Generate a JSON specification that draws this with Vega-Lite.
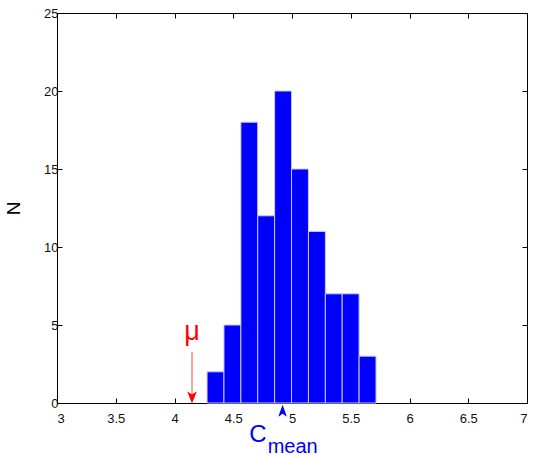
{
  "$schema": "https://vega.github.io/schema/vega-lite/v6.json",
  "autosize": "none",
  "padding": {"left": 57, "top": 13, "right": 7, "bottom": 52},
  "width": 470,
  "height": 390,
  "background": "white",
  "config": {
    "font": "Liberation Sans",
    "view": {"stroke": "#000", "strokeWidth": 1},
    "axis": {
      "domainColor": "#000",
      "tickColor": "#000",
      "labelColor": "#111",
      "labelFontSize": 13,
      "labelFont": "Liberation Sans",
      "grid": false,
      "tickSize": -5,
      "titleFont": "Liberation Sans",
      "titleFontWeight": "normal",
      "titleColor": "#000"
    }
  },
  "datasets": {
    "bins": [
      {"x0": 4.277, "x1": 4.421, "n": 2},
      {"x0": 4.421, "x1": 4.565, "n": 5},
      {"x0": 4.565, "x1": 4.708, "n": 18},
      {"x0": 4.708, "x1": 4.852, "n": 12},
      {"x0": 4.852, "x1": 4.996, "n": 20},
      {"x0": 4.996, "x1": 5.140, "n": 15},
      {"x0": 5.140, "x1": 5.284, "n": 11},
      {"x0": 5.284, "x1": 5.427, "n": 7},
      {"x0": 5.427, "x1": 5.571, "n": 7},
      {"x0": 5.571, "x1": 5.715, "n": 3}
    ]
  },
  "layer": [
    {
      "data": {"name": "bins"},
      "mark": {"type": "bar", "color": "#0000ff", "stroke": "#c8c8ff", "strokeWidth": 1},
      "encoding": {
        "x": {"field": "x0", "type": "quantitative", "scale": {"domain": [3, 7], "nice": false},
              "axis": {"values": [3, 3.5, 4, 4.5, 5, 5.5, 6, 6.5, 7], "format": "~g", "title": null, "labelPadding": 14}},
        "x2": {"field": "x1"},
        "y": {"field": "n", "type": "quantitative", "scale": {"domain": [0, 25], "nice": false},
              "axis": {"values": [0, 5, 10, 15, 20, 25], "format": "~g", "title": "N", "titleFontSize": 19, "titleX": -44, "titleY": 195, "titleAlign": "center", "titleBaseline": "middle", "labelPadding": 4}},
        "y2": {"datum": 0}
      }
    },
    {
      "data": {"values": [{"x": 4.149, "ya": 3.27, "yb": 0.4}]},
      "mark": {"type": "rule", "color": "#ff4545", "strokeWidth": 1},
      "encoding": {
        "x": {"field": "x", "type": "quantitative", "axis": {"orient": "top", "labels": false, "title": null, "values": [3, 3.5, 4, 4.5, 5, 5.5, 6, 6.5, 7], "domain": false}},
        "y": {"field": "ya", "type": "quantitative", "axis": {"orient": "right", "labels": false, "title": null, "values": [0, 5, 10, 15, 20, 25], "domain": false}},
        "y2": {"field": "yb"}
      }
    },
    {
      "data": {"values": [{"x": 4.149, "y": 0.36}]},
      "mark": {"type": "point", "shape": "M-0.8,-1 L0,1 L0.8,-1 L0,-0.5 Z", "size": 144, "filled": true, "color": "#ff0000", "opacity": 1},
      "encoding": {
        "x": {"field": "x", "type": "quantitative", "axis": null},
        "y": {"field": "y", "type": "quantitative", "axis": null}
      }
    },
    {
      "data": {"values": [{"x": 4.149, "y": 4.04, "t": "μ"}]},
      "mark": {"type": "text", "color": "#ff0000", "fontSize": 27, "align": "center", "baseline": "alphabetic", "font": "Liberation Sans"},
      "encoding": {
        "x": {"field": "x", "type": "quantitative", "axis": null},
        "y": {"field": "y", "type": "quantitative", "axis": null},
        "text": {"field": "t"}
      }
    },
    {
      "data": {"values": [{"x": 4.92, "y": -0.5}]},
      "mark": {"type": "point", "shape": "M-0.72,1 L0,-1 L0.72,1 L0,0.5 Z", "size": 144, "filled": true, "color": "#0000ff", "opacity": 1},
      "encoding": {
        "x": {"field": "x", "type": "quantitative", "axis": null},
        "y": {"field": "y", "type": "quantitative", "axis": null}
      }
    },
    {
      "data": {"values": [{"x": 4.783, "y": -2.5, "t": "C"}]},
      "mark": {"type": "text", "color": "#0000ff", "fontSize": 24, "align": "right", "baseline": "alphabetic", "font": "Liberation Sans"},
      "encoding": {
        "x": {"field": "x", "type": "quantitative", "axis": null},
        "y": {"field": "y", "type": "quantitative", "axis": null},
        "text": {"field": "t"}
      }
    },
    {
      "data": {"values": [{"x": 4.793, "y": -3.18, "t": "mean"}]},
      "mark": {"type": "text", "color": "#0000ff", "fontSize": 20, "align": "left", "baseline": "alphabetic", "font": "Liberation Sans"},
      "encoding": {
        "x": {"field": "x", "type": "quantitative", "axis": null},
        "y": {"field": "y", "type": "quantitative", "axis": null},
        "text": {"field": "t"}
      }
    }
  ],
  "resolve": {"axis": {"x": "independent", "y": "independent"}}
}
